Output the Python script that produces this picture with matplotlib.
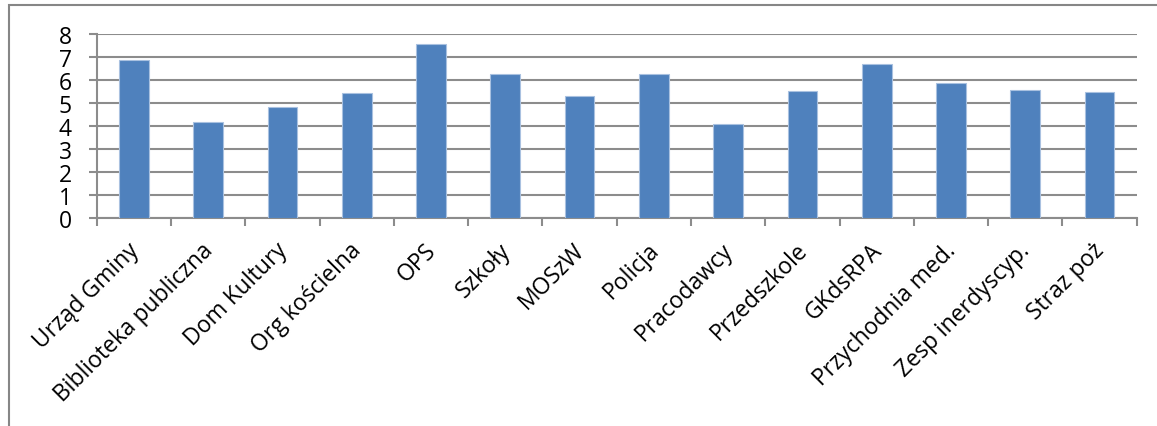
import numpy as np
import matplotlib
matplotlib.use('Agg')
from matplotlib import pyplot as plt
from matplotlib.patches import Rectangle
from matplotlib.transforms import ScaledTranslation

categories = ['Urząd Gminy', 'Biblioteka publiczna', 'Dom Kultury', 'Org kościelna',
              'OPS', 'Szkoły', 'MOSzW', 'Policja', 'Pracodawcy', 'Przedszkole',
              'GKdsRPA', 'Przychodnia med.', 'Zesp inerdyscyp.', 'Straz poż']
values = [6.87, 4.17, 4.82, 5.44, 7.57, 6.27, 5.30, 6.25, 4.11, 5.53,
          6.70, 5.89, 5.57, 5.47]
yticks = [0, 1, 2, 3, 4, 5, 6, 7, 8]

plt.rcParams['font.family'] = ['Open Sans', 'DejaVu Sans']
grid_col = '#8c8c8c'

fig = plt.figure(figsize=(11.57, 4.27), dpi=100)
ax = fig.add_axes([0.0836, 0.486, 0.8988, 0.432])

x = np.arange(len(categories))
ax.bar(x, values, width=0.4, color='#4f81bd', edgecolor='#a9c1e0', linewidth=0.8, zorder=3)

ax.set_xlim(-0.5, len(categories) - 0.5)
ax.set_ylim(0, 8)
ax.set_yticks(yticks)
ax.set_yticklabels([str(v) for v in yticks], fontsize=16.5)
ax.yaxis.grid(True, color=grid_col, linewidth=1.5, zorder=0)

ax.set_xticks(x)
ax.set_xticklabels(categories, rotation=45, ha='right', rotation_mode='anchor', fontsize=16.5)
ax.tick_params(axis='x', which='major', length=0, pad=14)
ax.set_xticks(np.arange(-0.5, len(categories)), minor=True)
ax.tick_params(axis='x', which='minor', length=6, width=1.5, color=grid_col)
ax.tick_params(axis='y', length=6, width=1.5, color=grid_col, pad=12)
shift = ScaledTranslation(-7 / 100, 0, fig.dpi_scale_trans)
for lab in ax.get_xticklabels():
    lab.set_transform(lab.get_transform() + shift)

for s in ['top', 'right']:
    ax.spines[s].set_visible(False)
for s in ['left', 'bottom']:
    ax.spines[s].set_color(grid_col)
    ax.spines[s].set_linewidth(1.5)

# outer chart-area border (runs off the bottom and right of the image)
fig.patches.append(Rectangle((9 / 1157, -0.05), 1.1, 1.05 - 6 / 427,
                             transform=fig.transFigure, fill=False,
                             edgecolor='#868686', linewidth=1.5))

fig.savefig('out.png', dpi=100)
